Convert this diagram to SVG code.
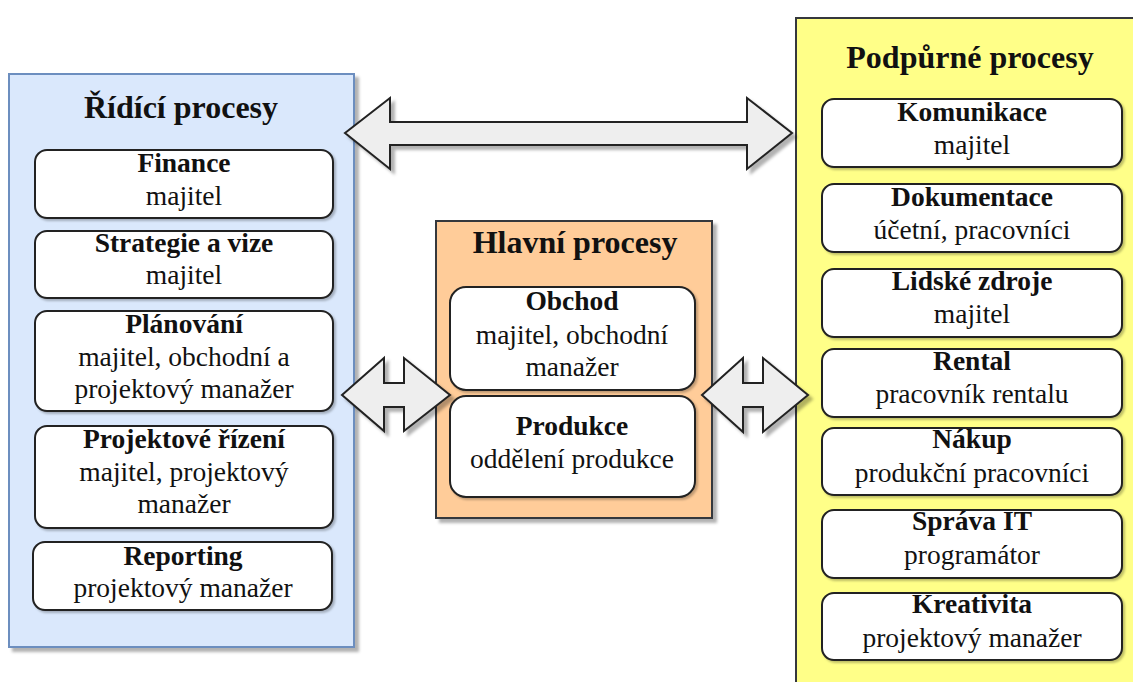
<svg xmlns="http://www.w3.org/2000/svg" width="1133" height="682" viewBox="0 0 1133 682" font-family="Liberation Serif, serif">
  <style>
    .t { text-anchor: middle; fill: #111; }
    .title { font-size: 32px; font-weight: bold; }
    .b { font-size: 27.5px; font-weight: bold; }
    .n { font-size: 27.5px; }
    .item { fill: #ffffff; stroke: #222; stroke-width: 2; }
    .arrow { fill: #eeeeee; stroke: #222; stroke-width: 2; stroke-linejoin: miter; }
  </style>
  <defs>
    <filter id="shadow" x="-10%" y="-10%" width="130%" height="130%">
      <feDropShadow dx="4" dy="4" stdDeviation="1.5" flood-color="#000" flood-opacity="0.3"/>
    </filter>
    <filter id="softShadow" x="-10%" y="-10%" width="130%" height="130%">
      <feDropShadow dx="2" dy="2" stdDeviation="1" flood-color="#000" flood-opacity="0.25"/>
    </filter>
  </defs>
  <rect width="1133" height="682" fill="#ffffff"/>

  <!-- Control processes -->
  <g id="ridici">
    <rect x="9" y="74" width="345" height="573" fill="#dae8fc" stroke="#6c8ebf" stroke-width="2" filter="url(#shadow)"/>
    <text class="t title" x="181" y="118">Řídící procesy</text>
  </g>
  <g id="finance">
    <rect class="item" x="35" y="150" width="298" height="68" rx="12" filter="url(#softShadow)"/>
    <text class="t b" x="184" y="172">Finance</text>
    <text class="t n" x="184" y="205">majitel</text>
  </g>
  <g id="strategie">
    <rect class="item" x="35" y="231" width="298" height="67" rx="12" filter="url(#softShadow)"/>
    <text class="t b" x="184" y="252">Strategie a vize</text>
    <text class="t n" x="184" y="284">majitel</text>
  </g>
  <g id="planovani">
    <rect class="item" x="35" y="311" width="298" height="100" rx="12" filter="url(#softShadow)"/>
    <text class="t b" x="184" y="333">Plánování</text>
    <text class="t n" x="184" y="366">majitel, obchodní a</text>
    <text class="t n" x="184" y="398">projektový manažer</text>
  </g>
  <g id="projektove-rizeni">
    <rect class="item" x="35" y="426" width="298" height="102" rx="12" filter="url(#softShadow)"/>
    <text class="t b" x="184" y="448">Projektové řízení</text>
    <text class="t n" x="184" y="481">majitel, projektový</text>
    <text class="t n" x="184" y="513">manažer</text>
  </g>
  <g id="reporting">
    <rect class="item" x="33" y="542" width="299" height="68" rx="12" filter="url(#softShadow)"/>
    <text class="t b" x="183" y="565">Reporting</text>
    <text class="t n" x="183" y="597">projektový manažer</text>
  </g>

  <!-- Main processes -->
  <g id="hlavni">
    <rect x="436" y="221" width="276" height="297" fill="#ffcc99" stroke="#36393d" stroke-width="2" filter="url(#shadow)"/>
    <text class="t title" x="575" y="253">Hlavní procesy</text>
  </g>
  <g id="obchod">
    <rect class="item" x="450" y="287" width="245" height="103" rx="16" filter="url(#softShadow)"/>
    <text class="t b" x="572" y="310">Obchod</text>
    <text class="t n" x="572" y="344">majitel, obchodní</text>
    <text class="t n" x="572" y="376">manažer</text>
  </g>
  <g id="produkce">
    <rect class="item" x="450" y="396" width="245" height="101" rx="16" filter="url(#softShadow)"/>
    <text class="t b" x="572" y="435">Produkce</text>
    <text class="t n" x="572" y="468">oddělení produkce</text>
  </g>

  <!-- Support processes -->
  <g id="podpurne">
    <rect x="796" y="18" width="350" height="680" fill="#ffff88" stroke="#36393d" stroke-width="2" filter="url(#shadow)"/>
    <text class="t title" x="970" y="68">Podpůrné procesy</text>
  </g>
  <g id="komunikace">
    <rect class="item" x="822" y="99" width="300" height="68" rx="12" filter="url(#softShadow)"/>
    <text class="t b" x="972" y="121">Komunikace</text>
    <text class="t n" x="972" y="154">majitel</text>
  </g>
  <g id="dokumentace">
    <rect class="item" x="822" y="184" width="300" height="68" rx="12" filter="url(#softShadow)"/>
    <text class="t b" x="972" y="206">Dokumentace</text>
    <text class="t n" x="972" y="239">účetní, pracovníci</text>
  </g>
  <g id="lidske-zdroje">
    <rect class="item" x="822" y="269" width="300" height="68" rx="12" filter="url(#softShadow)"/>
    <text class="t b" x="972" y="290">Lidské zdroje</text>
    <text class="t n" x="972" y="323">majitel</text>
  </g>
  <g id="rental">
    <rect class="item" x="822" y="349" width="300" height="68" rx="12" filter="url(#softShadow)"/>
    <text class="t b" x="972" y="370">Rental</text>
    <text class="t n" x="972" y="403">pracovník rentalu</text>
  </g>
  <g id="nakup">
    <rect class="item" x="822" y="428" width="300" height="67" rx="12" filter="url(#softShadow)"/>
    <text class="t b" x="972" y="448">Nákup</text>
    <text class="t n" x="972" y="482">produkční pracovníci</text>
  </g>
  <g id="sprava-it">
    <rect class="item" x="822" y="510" width="300" height="68" rx="12" filter="url(#softShadow)"/>
    <text class="t b" x="972" y="530">Správa IT</text>
    <text class="t n" x="972" y="564">programátor</text>
  </g>
  <g id="kreativita">
    <rect class="item" x="822" y="593" width="300" height="67" rx="12" filter="url(#softShadow)"/>
    <text class="t b" x="972" y="613">Kreativita</text>
    <text class="t n" x="972" y="647">projektový manažer</text>
  </g>

  <!-- Block arrows between the process groups -->
  <g id="connectors">
    <polygon class="arrow" filter="url(#shadow)" points="345,133 390,98 390,122 747,122 747,98 792,133 747,169 747,145 390,145 390,169"/>
    <polygon class="arrow" filter="url(#shadow)" points="342,395 384,358 384,383 404,383 404,358 450,395 404,431 404,407 384,407 384,431"/>
    <polygon class="arrow" filter="url(#shadow)" points="702,395 743,358 743,383 763,383 763,358 808,395 763,432 763,407 743,407 743,432"/>
  </g>
</svg>
